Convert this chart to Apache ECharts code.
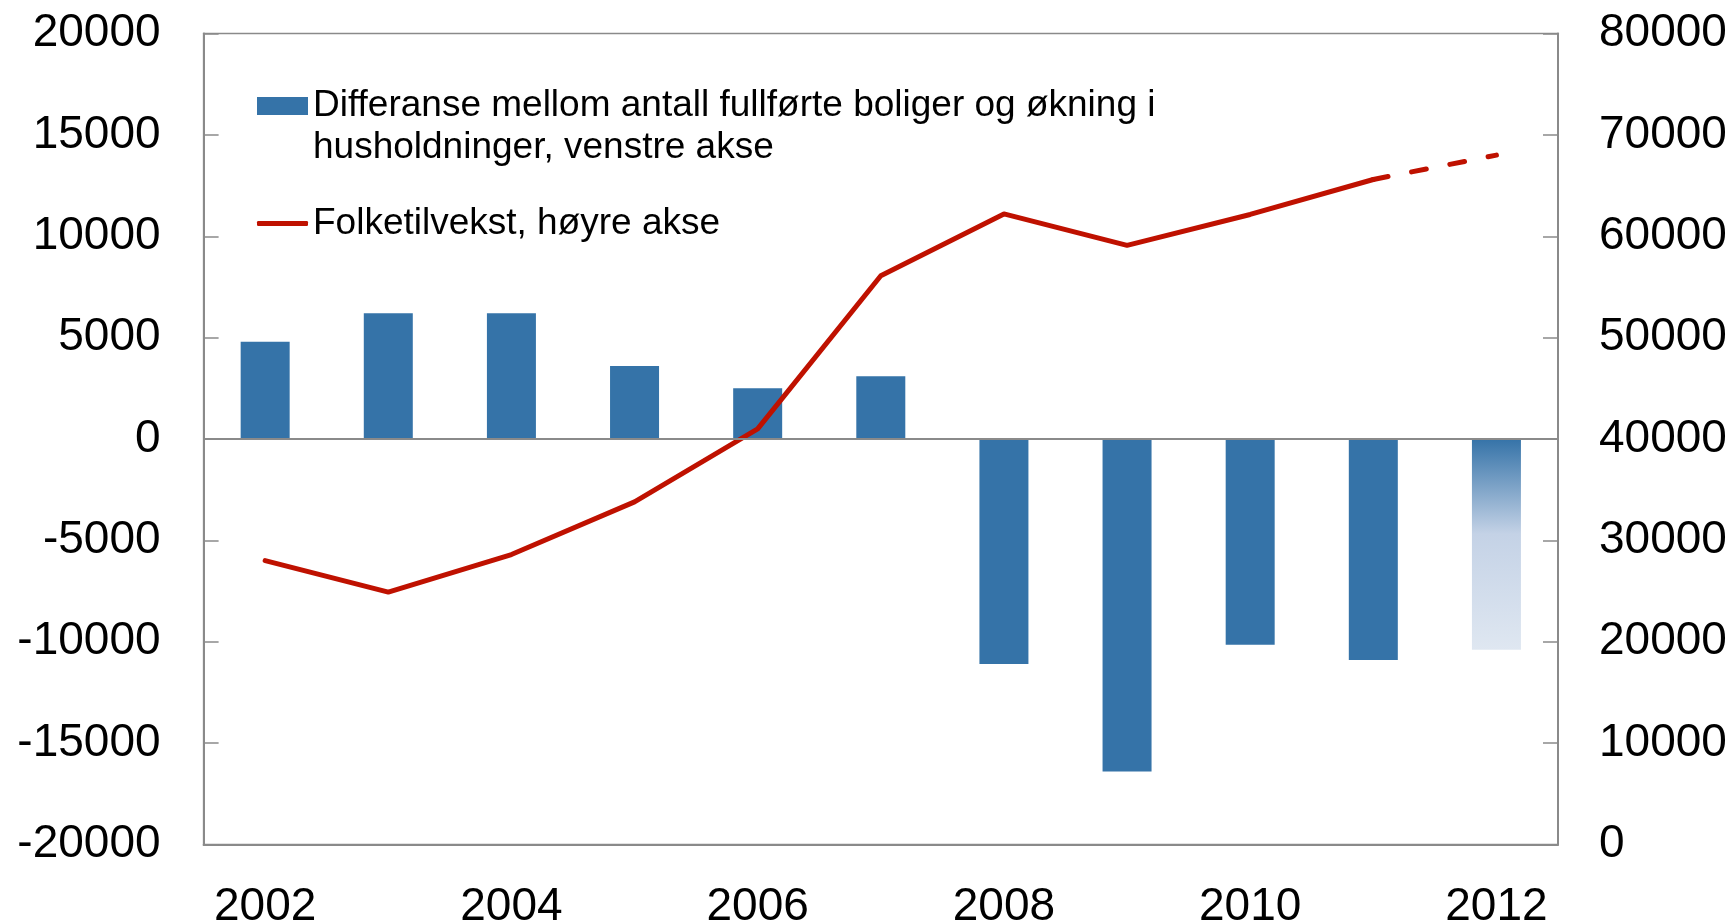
<!DOCTYPE html>
<html>
<head>
<meta charset="utf-8">
<script src="https://cdn.jsdelivr.net/npm/echarts@6/dist/echarts.min.js"></script>
<style>
html,body{margin:0;padding:0;background:#fff;}
#chart{width:1735px;height:923px;}
</style>
</head>
<body>
<div id="chart"></div>
<script>
// Categories
const years = ['2002','2003','2004','2005','2006','2007','2008','2009','2010','2011','2012'];
// Left axis: difference between completed dwellings and household growth
const housingGap = [4800, 6200, 6200, 3600, 2500, 3100, -11100, -16400, -10150, -10900, -10400];
// Right axis: population growth (solid, observed)
const popGrowth = [28000, 24900, 28600, 33800, 41000, 56100, 62200, 59100, 62150, 65600, null];
// Right axis: population growth (dashed, projected)
const popGrowthProjected = [null, null, null, null, null, null, null, null, null, 65600, 68000];
// Axis tick settings
const leftTicks = {min: -20000, max: 20000, interval: 5000};
const rightTicks = {min: 0, max: 80000, interval: 10000};

const barName = 'Differanse mellom antall fullførte boliger og økning i\nhusholdninger, venstre akse';
const lineName = 'Folketilvekst, høyre akse';

const FONT = '"Liberation Sans", Arial, sans-serif';
const AXIS_COLOR = '#8a8a8a';
const BAR_COLOR = '#3573a8';
const LINE_COLOR = '#bf1100';

const barData = housingGap.map((v, i) => {
  if (i === years.length - 1) {
    return {
      value: v,
      itemStyle: {
        color: {
          type: 'linear', x: 0, y: 0, x2: 0, y2: 1,
          colorStops: [
            {offset: 0, color: '#3573a8'},
            {offset: 0.45, color: '#c4d2e6'},
            {offset: 1, color: '#dfe7f1'}
          ]
        }
      }
    };
  }
  return v;
});

const plain = v => String(v);

const chart = echarts.init(document.getElementById('chart'));
chart.setOption({
  animation: false,
  backgroundColor: '#fff',
  textStyle: {fontFamily: FONT},
  grid: {
    left: 203.6, right: 177, top: 33.5, bottom: 78.5,
    containLabel: false, outerBoundsMode: 'none',
    show: true, borderColor: AXIS_COLOR, borderWidth: 1.5, backgroundColor: 'transparent'
  },
  legend: [
    {
      data: [barName],
      orient: 'vertical',
      left: 257, top: 43, padding: 0,
      itemWidth: 51, itemHeight: 18, icon: 'rect',
      selectedMode: false,
      formatter: name => ' \n' + name,
      textStyle: {fontSize: 37, lineHeight: 42, color: '#000', fontFamily: FONT}
    },
    {
      data: [{name: lineName, icon: 'roundRect'}],
      orient: 'vertical',
      left: 257, top: 202.5, padding: 0,
      itemWidth: 51, itemHeight: 5,
      selectedMode: false,
      itemStyle: {color: LINE_COLOR},
      textStyle: {fontSize: 37, lineHeight: 42, color: '#000', fontFamily: FONT}
    }
  ],
  xAxis: {
    type: 'category',
    data: years,
    boundaryGap: true,
    axisLine: {onZero: false, lineStyle: {color: AXIS_COLOR, width: 2}},
    axisTick: {interval: 1, inside: true, length: 18, lineStyle: {color: AXIS_COLOR, width: 1.5}},
    axisLabel: {interval: 1, fontSize: 46, color: '#000', margin: 40, fontFamily: FONT},
    splitLine: {show: false}
  },
  yAxis: [
    {
      type: 'value',
      min: leftTicks.min, max: leftTicks.max, interval: leftTicks.interval,
      position: 'left',
      axisLine: {show: true, lineStyle: {color: AXIS_COLOR, width: 2}},
      axisTick: {show: true, inside: true, length: 15, lineStyle: {color: AXIS_COLOR, width: 1.5}},
      axisLabel: {fontSize: 46, color: '#000', margin: 43, fontFamily: FONT, formatter: plain},
      splitLine: {show: false}
    },
    {
      type: 'value',
      min: rightTicks.min, max: rightTicks.max, interval: rightTicks.interval,
      position: 'right',
      axisLine: {show: true, lineStyle: {color: AXIS_COLOR, width: 2}},
      axisTick: {show: true, inside: true, length: 15, lineStyle: {color: AXIS_COLOR, width: 1.5}},
      axisLabel: {fontSize: 46, color: '#000', margin: 41, fontFamily: FONT, formatter: plain},
      splitLine: {show: false}
    }
  ],
  series: [
    {
      name: barName,
      type: 'bar',
      yAxisIndex: 0,
      barWidth: 49,
      itemStyle: {color: BAR_COLOR},
      data: barData,
      markLine: {
        silent: true,
        symbol: 'none',
        label: {show: false},
        lineStyle: {color: AXIS_COLOR, width: 2, type: 'solid'},
        data: [{yAxis: 0}]
      },
      z: 2
    },
    {
      name: lineName,
      type: 'line',
      yAxisIndex: 1,
      data: popGrowth,
      showSymbol: false,
      symbol: 'none',
      connectNulls: false,
      lineStyle: {color: LINE_COLOR, width: 5, join: 'round', cap: 'round'},
      itemStyle: {color: LINE_COLOR},
      z: 3
    },
    {
      name: 'Folketilvekst, anslag',
      type: 'line',
      yAxisIndex: 1,
      data: popGrowthProjected,
      showSymbol: false,
      symbol: 'none',
      lineStyle: {color: LINE_COLOR, width: 5, type: [15, 24], cap: 'round'},
      itemStyle: {color: LINE_COLOR},
      z: 3
    }
  ]
});
</script>
</body>
</html>
